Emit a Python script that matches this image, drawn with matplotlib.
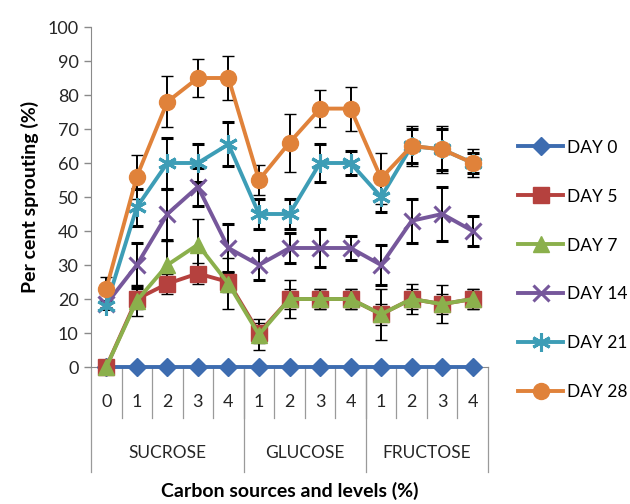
import matplotlib
matplotlib.use("Agg")
import matplotlib.pyplot as plt
import matplotlib.transforms as mtransforms

plt.rcParams['font.family'] = ['Lato', 'DejaVu Sans']

levels = ["0", "1", "2", "3", "4", "1", "2", "3", "4", "1", "2", "3", "4"]
groups = ["SUCROSE", "GLUCOSE", "FRUCTOSE"]
group_sizes = [5, 4, 4]

series_names = ["DAY 0", "DAY 5", "DAY 7", "DAY 14", "DAY 21", "DAY 28"]
day0 = [0, 0, 0, 0, 0, 0, 0, 0, 0, 0, 0, 0, 0]
day5 = [0, 20, 24.5, 27.5, 25, 10, 20, 20, 20, 15.5, 20, 18.5, 20]
day7 = [0, 19.5, 30, 36, 24.5, 9.5, 20, 20, 20, 15.5, 20, 18.5, 20]
day14 = [18.5, 30, 45, 53, 35, 30, 35, 35, 35, 30, 43, 45, 40]
day21 = [18, 47, 60, 60, 65.5, 45, 45, 60, 60, 50, 65, 64, 60]
day28 = [23, 56, 78, 85, 85, 55, 66, 76, 76, 55.5, 65, 64, 60]

err0 = [0] * 13
err5 = [0, 3, 3, 3, 3, 3, 3, 3, 3, 3, 3, 3, 3]
err7 = [0, 4.5, 7, 7.5, 7.5, 4.5, 5.5, 3, 3, 7.5, 4.5, 5.5, 3]
err14 = [1, 6.5, 7.5, 5.5, 7, 4.5, 4.5, 5.5, 3.5, 6, 6.5, 8, 4.5]
err21 = [1, 5.5, 7.5, 5.5, 6.5, 4.5, 4.5, 5.5, 3.5, 4.5, 5, 6, 3]
err28 = [3.5, 6.5, 7.5, 5.5, 6.5, 4.5, 8.5, 5.5, 6.5, 7.5, 6, 7, 4]

values = [day0, day5, day7, day14, day21, day28]
errors = [err0, err5, err7, err14, err21, err28]
colors = ["#3d6cb0", "#b5413e", "#8bb04c", "#76579b", "#3d9db6", "#e0823a"]
markers = ["D", "s", "^", "x", (6, 2, 0), "o"]
msizes = [9.5, 11.5, 11.5, 11.5, 13.5, 11.5]

fig = plt.figure(figsize=(6.3, 5.04), dpi=100)
ax = fig.add_axes([91 / 630, 1 - 367 / 504, 397 / 630, 340 / 504])

x = list(range(len(levels)))
for name, v, e, c, m, ms in zip(series_names, values, errors, colors, markers, msizes):
    ax.errorbar(x, v, yerr=e, color=c, lw=2.8, marker=m, ms=ms, mfc=c, mec=c,
                mew=2.2 if m in ("x",) or isinstance(m, tuple) else 1,
                ecolor="black", elinewidth=1.4, capsize=4, capthick=1.4,
                label=name, clip_on=False, zorder=3)

ax.set_xlim(-0.5, len(levels) - 0.5)
ax.set_ylim(0, 100)
ax.set_yticks(range(0, 101, 10))
ax.tick_params(axis='y', labelsize=13, colors='#8a8a8a', labelcolor='#262626',
               length=5, width=1, direction='out', pad=4)
ax.set_xticks([])
for s in ["top", "right"]:
    ax.spines[s].set_visible(False)
ax.spines["left"].set_color("#8a8a8a")
ax.spines["bottom"].set_color("#8a8a8a")

trans = mtransforms.blended_transform_factory(ax.transData, fig.transFigure)
y0 = 1 - 367 / 504
y_cat = 1 - 418 / 504
y_grp = 1 - 472 / 504
# category separators
for i in range(1, len(levels)):
    ax.plot([i - 0.5, i - 0.5], [y0, y_cat], transform=trans, color="#9a9a9a",
            lw=0.9, clip_on=False)
# group separators
b = -0.5
bounds = [b]
for g in group_sizes:
    b += g
    bounds.append(b)
for bx in bounds:
    ax.plot([bx, bx], [y0, y_grp], transform=trans, color="#9a9a9a", lw=0.9,
            clip_on=False)
for i, lab in enumerate(levels):
    ax.text(i, 1 - 402 / 504, lab, transform=trans, ha='center', va='center',
            fontsize=13, color='#262626')
for gi, g in enumerate(groups):
    cx = (bounds[gi] + bounds[gi + 1]) / 2
    ax.text(cx, 1 - 453 / 504, g, transform=trans, ha='center', va='center',
            fontsize=12.5, color='#262626')

fig.text(30 / 630, 1 - 197 / 504, "Per cent sprouting (%)", rotation=90,
         ha='center', va='center', fontsize=14, fontweight='bold')
fig.text((91 + 488) / 2 / 630, 1 - 491 / 504, "Carbon sources and levels (%)",
         ha='center', va='center', fontsize=14, fontweight='bold')

handles, labels = ax.get_legend_handles_labels()
handles = [h[0] for h in handles]
fig.legend(handles, labels, loc='center left', bbox_to_anchor=(518 / 630, 1 - 270 / 504),
           frameon=False, fontsize=12.5, labelspacing=1.9, handlelength=2.6,
           handletextpad=0.2, borderpad=0, borderaxespad=0)

fig.savefig("out.png", dpi=100)
